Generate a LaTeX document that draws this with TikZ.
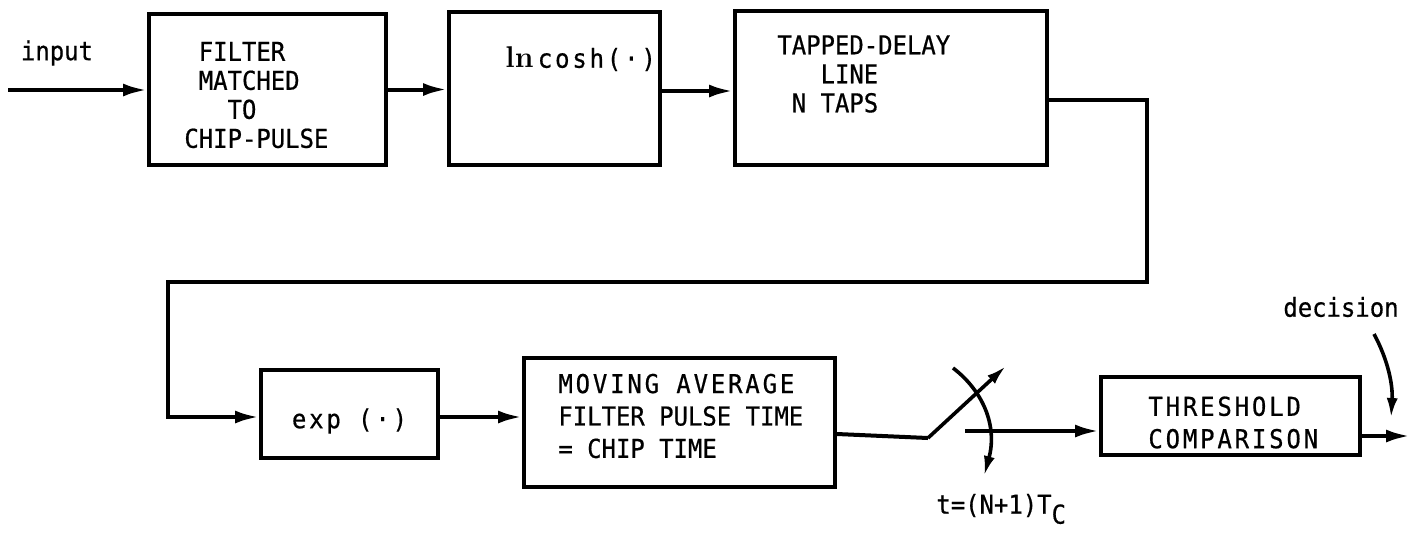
\documentclass[tikz,border=0pt]{standalone}
\usepackage{fontspec}
\usetikzlibrary{arrows.meta}
\newfontfamily\tw{DejaVu Sans Mono}[FakeStretch=0.92, FakeBold=0.6]
\newfontfamily\tws{DejaVu Sans Mono}[FakeStretch=0.92, FakeBold=0.6, LetterSpace=11]
\begin{document}
\begin{tikzpicture}[x={(0.5pt,0)},y={(0,-0.5pt)},
  blk/.style={draw, line width=2pt, inner sep=0pt},
  wire/.style={line width=2pt},
  sig/.style={wire, -{Latex[length=12pt,width=6.5pt]}},
  thin/.style={line width=1.8pt, -{Latex[length=10pt,width=5.5pt]}},
  lbl/.style={font=\tw\fontsize{13}{14.5}\selectfont, inner sep=0pt},
  slbl/.style={font=\tw\fontsize{13}{16.2}\selectfont, inner sep=0pt}]
\useasboundingbox (0,0) rectangle (1414,532);

% upper row of blocks
\node[blk, minimum width=118.5pt, minimum height=75.5pt] (flt) at (267.5,89.5) {};
\node[blk, minimum width=105.5pt, minimum height=76.5pt] (lnc) at (554.5,88.5) {};
\node[blk, minimum width=156pt,   minimum height=77pt]   (tdl) at (891,88) {};

% lower row of blocks
\node[blk, minimum width=88.5pt,  minimum height=44pt]   (expb) at (349.5,414) {};
\node[blk, minimum width=155.5pt, minimum height=64.5pt] (mavg) at (679.5,422.5) {};
\node[blk, minimum width=129.5pt, minimum height=39pt]   (thr) at (1230.5,416) {};

% block texts
\node[lbl, align=left, anchor=west] (fltT) at (184,95)
  {\hphantom{X}FILTER\\\hphantom{X}MATCHED\\\hphantom{XXX}TO\\CHIP-PULSE};
\node[lbl, anchor=west] (lncT) at (505,59)
  {{\rmfamily\bfseries\fontsize{15}{15}\selectfont ln}\,{\tws cosh(·)}};
\node[lbl, align=left, anchor=west] (tdlT) at (777,74)
  {TAPPED-DELAY\\\hphantom{XXX}LINE\\\hphantom{X}N TAPS};
\node[slbl] (expT) at (349.5,421) {\tws exp (·)};
\node[slbl, align=left, anchor=west] (mavgT) at (558,416)
  {{\tws MOVING AVERAGE}\\FILTER PULSE TIME\\= CHIP TIME};
\node[slbl, align=left, anchor=west] (thrT) at (1148,422.5)
  {{\tws THRESHOLD}\\{\tws COMPARISON}};

% free labels
\node[lbl] (inT) at (57,53) {input};
\node[lbl] (decT) at (1341,307) {decision};
\node[lbl, anchor=west] (tT) at (936,509) {t=(N+1)T\raisebox{-0.7ex}{C}};

% connectors of the upper row
\coordinate (in) at (8,90);
\draw[sig] (in) -- (in -| flt.west);
\draw[sig] (flt.east) -- (flt.east -| lnc.west);
\coordinate (r1) at (0,91);
\draw[sig] (lnc.east |- r1) -- (r1 -| tdl.west);

% feedback path down to the lower row
\coordinate (fby) at (0,100);
\coordinate (c1) at (1147,282);
\coordinate (c2) at (168,417);
\draw[sig] (tdl.east |- fby) -| (c1) -| (c2) -- (c2 -| expb.west);

\draw[sig] (expb.east |- c2) -- (c2 -| mavg.west);

% sampling switch
\coordinate (piv) at (928,438);
\coordinate (mo) at (0,434);
\coordinate (arm) at (1006,366);
\draw[wire] (mavg.east |- mo) -- (piv);
\draw[thin] (piv) -- (arm);
\coordinate (a0) at (953,368);
\coordinate (a1) at (984,476);
\draw[thin] (a0) .. controls (982,390) and (998,425) .. (a1);

\coordinate (swo) at (965,431);
\draw[sig] (swo) -- (swo -| thr.west);

% output
\coordinate (out) at (1410,436);
\draw[sig] (thr.east |- out) -- (out);

% decision pointer
\coordinate (d0) at (1374,334);
\coordinate (d1) at (1391,418);
\draw[thin] (d0) .. controls (1388,360) and (1393,385) .. (d1);
\end{tikzpicture}
\end{document}
